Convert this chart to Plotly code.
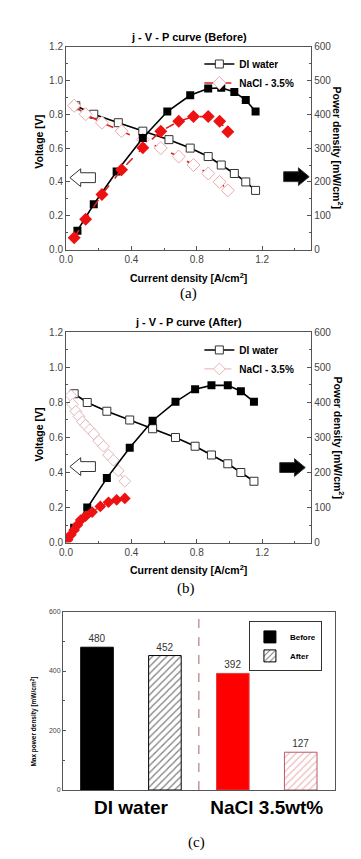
import plotly.graph_objects as go

W, H = 361, 859

# ---------------- data ----------------
# (a) Before
a_di_j = [0.06, 0.17, 0.32, 0.47, 0.63, 0.76, 0.87, 0.95, 1.03, 1.10, 1.16]
a_di_v = [0.85, 0.80, 0.75, 0.70, 0.65, 0.60, 0.55, 0.50, 0.45, 0.40, 0.35]
a_di_pj = [0.07, 0.17, 0.31, 0.47, 0.62, 0.76, 0.87, 0.95, 1.03, 1.10, 1.16]
a_di_p = [56, 134, 231, 330, 408, 456, 476, 478, 466, 442, 408]
a_na_j = [0.05, 0.12, 0.22, 0.34, 0.47, 0.58, 0.69, 0.78, 0.87, 0.94, 0.99]
a_na_v = [0.85, 0.80, 0.75, 0.70, 0.65, 0.60, 0.55, 0.50, 0.45, 0.40, 0.35]
a_na_p = [35, 90, 163, 236, 301, 350, 379, 393, 393, 379, 348]

# (b) After
b_di_j = [0.05, 0.13, 0.25, 0.39, 0.53, 0.67, 0.79, 0.89, 0.99, 1.07, 1.15]
b_di_v = [0.85, 0.80, 0.75, 0.70, 0.65, 0.60, 0.55, 0.50, 0.45, 0.40, 0.35]
b_di_p = [42, 100, 184, 271, 348, 402, 438, 449, 449, 432, 402]
b_na_vj = [0.03, 0.04, 0.06, 0.08, 0.10, 0.12, 0.146, 0.17, 0.20, 0.23, 0.26, 0.29, 0.32, 0.36]
b_na_v = [0.84, 0.79, 0.75, 0.72, 0.69, 0.67, 0.645, 0.62, 0.58, 0.55, 0.50, 0.47, 0.41, 0.35]
b_na_pj = [0.01, 0.03, 0.05, 0.07, 0.09, 0.12, 0.16, 0.21, 0.26, 0.31, 0.36]
b_na_p = [8, 22, 36, 50, 64, 75, 87, 103, 115, 122, 126]

# (c) Max power density
categories = ["DI water", "NaCl 3.5wt%"]
before_vals = [480, 392]
after_vals = [452, 127]

x_ticks = [0.0, 0.4, 0.8, 1.2]
v_ticks = [0.0, 0.2, 0.4, 0.6, 0.8, 1.0, 1.2]
p_ticks = [0, 100, 200, 300, 400, 500, 600]
bar_ticks = [0, 200, 400, 600]

# ---------------- helpers ----------------
FONT = "Liberation Sans, Arial, sans-serif"
SERIF = "Liberation Serif, Times New Roman, serif"
AX = "#555555"
TK = "#444444"


def px(x):
    return x / W


def py(y):
    return 1 - y / H


def arrow(tip_x, cy, direction, filled):
    head_len, head_h, shaft_h, total = 11, 9, 5, 26
    d = direction
    hb = tip_x - d * head_len
    end = tip_x - d * total
    pts = [(tip_x, cy), (hb, cy - head_h), (hb, cy - shaft_h), (end, cy - shaft_h),
           (end, cy + shaft_h), (hb, cy + shaft_h), (hb, cy + head_h)]
    path = "M " + " L ".join(f"{px(a):.5f},{py(b):.5f}" for a, b in pts) + " Z"
    return dict(type="path", xref="paper", yref="paper", path=path,
                fillcolor="black" if filled else "white",
                line=dict(color="#333", width=1))


fig = go.Figure()

# ---------------- panel (a) ----------------
fig.add_trace(go.Scatter(x=a_di_j, y=a_di_v, mode="lines+markers", name="DI water",
                         line=dict(color="black", width=1.6),
                         marker=dict(symbol="square", size=8, color="white",
                                     line=dict(color="#333", width=1)),
                         xaxis="x", yaxis="y", legend="legend"))
fig.add_trace(go.Scatter(x=a_na_j, y=a_na_v, mode="lines+markers", name="NaCl - 3.5%",
                         line=dict(color="#e0201c", width=1.6, dash="dash"),
                         marker=dict(symbol="diamond", size=10, color="white",
                                     line=dict(color="#f0a8ac", width=1)),
                         xaxis="x", yaxis="y", legend="legend"))
fig.add_trace(go.Scatter(x=a_di_pj, y=a_di_p, mode="lines+markers", showlegend=False,
                         line=dict(color="black", width=1.6),
                         marker=dict(symbol="square", size=8, color="black"),
                         xaxis="x", yaxis="y2"))
fig.add_trace(go.Scatter(x=a_na_j, y=a_na_p, mode="lines+markers", showlegend=False,
                         line=dict(color="#e0201c", width=1.6, dash="dash"),
                         marker=dict(symbol="diamond", size=10, color="#ee1111"),
                         xaxis="x", yaxis="y2"))

# ---------------- panel (b) ----------------
fig.add_trace(go.Scatter(x=b_di_j, y=b_di_v, mode="lines+markers", name="DI water",
                         line=dict(color="black", width=1.6),
                         marker=dict(symbol="square", size=8, color="white",
                                     line=dict(color="#333", width=1)),
                         xaxis="x2", yaxis="y3", legend="legend2"))
fig.add_trace(go.Scatter(x=b_na_vj, y=b_na_v, mode="lines+markers", name="NaCl - 3.5%",
                         line=dict(color="rgba(225,60,60,0.35)", width=1.2, dash="dash"),
                         marker=dict(symbol="diamond", size=9, color="white",
                                     line=dict(color="#e3b6ba", width=1)),
                         xaxis="x2", yaxis="y3", legend="legend2"))
fig.add_trace(go.Scatter(x=b_di_j, y=b_di_p, mode="lines+markers", showlegend=False,
                         line=dict(color="black", width=1.6),
                         marker=dict(symbol="square", size=8, color="black"),
                         xaxis="x2", yaxis="y4"))
fig.add_trace(go.Scatter(x=b_na_pj, y=b_na_p, mode="lines+markers", showlegend=False,
                         line=dict(color="#e0201c", width=1.2),
                         marker=dict(symbol="diamond", size=9, color="#ee1111"),
                         xaxis="x2", yaxis="y4"))

# ---------------- panel (c) ----------------
fig.add_trace(go.Bar(x=categories, y=before_vals, name="Before",
                     marker=dict(color=["black", "#ff0000"],
                                 line=dict(color=["black", "#e04040"], width=1)),
                     texttemplate="%{y}", textposition="outside",
                     textfont=dict(size=10, color="#333", family=FONT),
                     cliponaxis=False, xaxis="x3", yaxis="y5", legend="legend3"))
fig.add_trace(go.Bar(x=categories, y=after_vals, name="After",
                     marker=dict(color="white",
                                 line=dict(color=["black", "#b85a64"], width=1),
                                 pattern=dict(shape="/", size=5, solidity=0.25,
                                              fgcolor=["black", "#d9787f"], bgcolor="white")),
                     texttemplate="%{y}", textposition="outside",
                     textfont=dict(size=10, color="#333", family=FONT),
                     cliponaxis=False, xaxis="x3", yaxis="y5", legend="legend3"))

# ---------------- layout ----------------
xa_dom = [px(52), px(302)]
a_dom = [py(239), py(33)]
b_dom = [py(536), py(323)]
c_xdom = [px(49), px(326)]
c_dom = [py(787), py(606)]

common_x = dict(range=[0, 1.5], tickvals=x_ticks, tickformat=".1f", ticks="inside",
                ticklen=4, tickcolor=AX, showline=True, linecolor=AX, linewidth=1,
                mirror=True, showgrid=False, zeroline=False,
                minor=dict(dtick=0.2, ticks="inside", ticklen=2, tickcolor=AX),
                tickfont=dict(size=10, color=TK, family=FONT))
common_v = dict(range=[0, 1.2], tickvals=v_ticks, tickformat=".1f", ticks="inside",
                ticklen=4, tickcolor=AX, showline=True, linecolor=AX, linewidth=1,
                mirror=True, showgrid=False, zeroline=False,
                minor=dict(dtick=0.1, ticks="inside", ticklen=2, tickcolor=AX),
                tickfont=dict(size=10, color=TK, family=FONT))
common_p = dict(range=[0, 600], tickvals=p_ticks, side="right", ticks="inside",
                ticklen=4, tickcolor=AX, showline=True, linecolor=AX, linewidth=1,
                showgrid=False, zeroline=False,
                minor=dict(dtick=50, ticks="inside", ticklen=2, tickcolor=AX),
                tickfont=dict(size=10, color=TK, family=FONT))

legend_common = dict(font=dict(size=10, family=FONT, color="black", weight="bold"),
                     bgcolor="rgba(0,0,0,0)", borderwidth=0, tracegroupgap=0,
                     xanchor="left", yanchor="top", itemwidth=30)

fig.update_layout(
    width=W, height=H, margin=dict(l=0, r=0, t=0, b=0),
    paper_bgcolor="white", plot_bgcolor="white",
    font=dict(family=FONT),
    barmode="group", bargap=0.0, bargroupgap=0.52,
    xaxis=dict(domain=xa_dom, anchor="y", **common_x),
    yaxis=dict(domain=a_dom, anchor="x", **common_v),
    yaxis2=dict(overlaying="y", anchor="x", **common_p),
    xaxis2=dict(domain=xa_dom, anchor="y3", **common_x),
    yaxis3=dict(domain=b_dom, anchor="x2", **common_v),
    yaxis4=dict(overlaying="y3", anchor="x2", **common_p),
    xaxis3=dict(domain=c_xdom, anchor="y5", type="category", range=[-0.5, 1.5],
                showline=True, linecolor=AX, linewidth=1, mirror=True, ticks="",
                showgrid=False, zeroline=False,
                tickfont=dict(size=19, color="black", family=FONT, weight="bold")),
    yaxis5=dict(domain=c_dom, anchor="x3", range=[0, 600], tickvals=bar_ticks,
                ticks="inside", ticklen=3, tickcolor=AX, showline=True, linecolor=AX,
                linewidth=1, mirror=True, showgrid=False, zeroline=False,
                minor=dict(dtick=100, ticks="inside", ticklen=2, tickcolor=AX),
                tickfont=dict(size=7, color=TK, family=FONT)),
    legend=dict(x=px(188), y=py(36), **legend_common),
    legend2=dict(x=px(188), y=py(326), **legend_common),
    legend3=dict(x=px(313), y=py(616), xanchor="right", yanchor="top",
                 font=dict(size=8, family=FONT, color="black", weight="bold"),
                 bgcolor="white", bordercolor="#333", borderwidth=1, tracegroupgap=0,
                 itemwidth=30),
)

shapes = [
    arrow(56, 166, -1, False), arrow(300, 165, 1, True),
    arrow(56, 459, -1, False), arrow(296, 460, 1, True),
    dict(type="line", xref="x3", yref="y5", x0=0.5, x1=0.5, y0=0, y1=600,
         line=dict(color="#b06060", width=1, dash="dash")),
]
fig.update_layout(shapes=shapes)

ann = []


def add_text(text, x, y, size, angle=0, family=FONT, weight="bold"):
    f = dict(family=family, color="black", size=size, weight=weight)
    ann.append(dict(text=text, x=px(x), y=py(y), xref="paper", yref="paper",
                    showarrow=False, xanchor="center", yanchor="middle",
                    textangle=angle, font=f))


add_text("j - V - P curve (Before)", 177, 23, 11)
add_text("j - V - P curve (After)", 177, 312, 11)
add_text("Current density [A/cm<sup>2</sup>]", 177, 267, 10.5)
add_text("Current density [A/cm<sup>2</sup>]", 177, 563, 10.5)
add_text("Voltage [V]", 25, 130, 10.5, -90)
add_text("Voltage [V]", 25, 427, 10.5, -90)
add_text("Power density [mW/cm<sup>2</sup>]", 330, 136, 10.5, 90)
add_text("Power density [mW/cm<sup>2</sup>]", 330, 430, 10.5, 90)
add_text("Max power density [mW/cm<sup>2</sup>]", 20, 718, 6.5, -90)
add_text("(a)", 177, 283, 15, family=SERIF, weight="normal")
add_text("(b)", 174, 583, 15, family=SERIF, weight="normal")
add_text("(c)", 185, 840, 15, family=SERIF, weight="normal")

fig.update_layout(annotations=ann)

fig.write_html("out.html")
